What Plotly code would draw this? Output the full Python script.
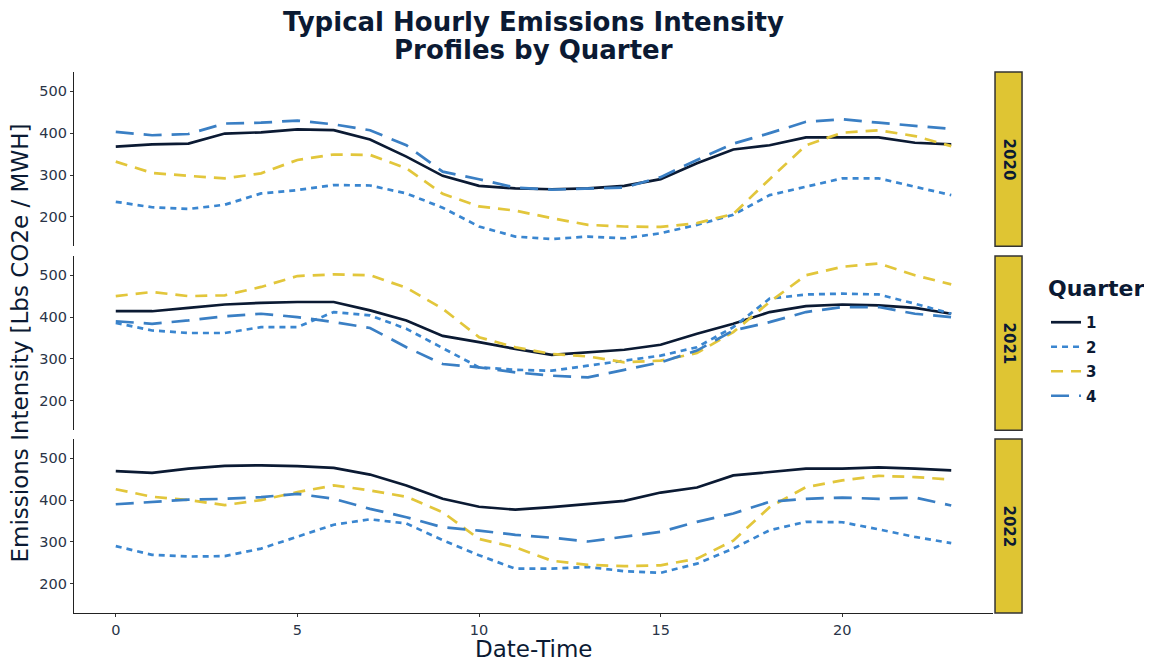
import plotly.graph_objects as go

hours = list(range(24))
years = ["2020", "2021", "2022"]
quarters = ["1", "2", "3", "4"]

q1_2020 = [368, 373, 375, 399, 402, 409, 407, 385, 344, 298, 274, 268, 266, 268, 274, 290, 328, 361, 371, 390, 390, 390, 377, 373]
q2_2020 = [236, 223, 219, 229, 256, 264, 276, 275, 256, 222, 177, 153, 147, 153, 149, 161, 181, 205, 252, 272, 292, 292, 272, 252]
q3_2020 = [332, 305, 298, 292, 304, 336, 349, 348, 316, 255, 225, 215, 197, 181, 177, 176, 185, 207, 290, 371, 401, 407, 393, 369]
q4_2020 = [403, 395, 398, 423, 425, 430, 421, 407, 371, 308, 290, 270, 265, 268, 270, 295, 336, 375, 400, 427, 433, 425, 417, 410]

q1_2021 = [414, 414, 422, 430, 434, 436, 436, 416, 392, 355, 340, 324, 310, 316, 322, 334, 360, 384, 412, 426, 430, 428, 422, 408]
q2_2021 = [386, 368, 362, 362, 376, 376, 412, 404, 372, 326, 280, 274, 272, 284, 296, 308, 328, 376, 444, 454, 456, 454, 432, 408]
q3_2021 = [450, 460, 450, 452, 472, 498, 502, 500, 470, 420, 352, 328, 312, 306, 292, 296, 314, 364, 436, 500, 520, 528, 500, 478]
q4_2021 = [390, 384, 392, 402, 408, 400, 388, 374, 328, 288, 280, 268, 260, 256, 274, 292, 320, 368, 388, 412, 424, 424, 408, 400]

q1_2022 = [469, 465, 475, 482, 483, 481, 477, 461, 435, 403, 384, 377, 383, 390, 398, 418, 430, 459, 467, 475, 475, 478, 475, 471]
q2_2022 = [290, 269, 265, 266, 284, 312, 341, 354, 344, 304, 268, 236, 236, 240, 230, 226, 248, 284, 328, 348, 347, 330, 312, 297]
q3_2022 = [426, 408, 400, 388, 400, 419, 435, 423, 408, 371, 307, 287, 255, 245, 242, 244, 260, 303, 383, 431, 447, 458, 455, 449]
q4_2022 = [390, 395, 401, 403, 407, 415, 403, 379, 359, 335, 327, 317, 310, 301, 312, 324, 348, 368, 396, 403, 406, 403, 406, 387]

data = {
    "2020": [q1_2020, q2_2020, q3_2020, q4_2020],
    "2021": [q1_2021, q2_2021, q3_2021, q4_2021],
    "2022": [q1_2022, q2_2022, q3_2022, q4_2022],
}

x_ticks = [0, 5, 10, 15, 20]
y_ticks = [200, 300, 400, 500]

title_line1 = "Typical Hourly Emissions Intensity"
title_line2 = "Profiles by Quarter"

NAVY = "#0b1a33"
colors = ["#0b1a33", "#3a86d0", "#e2c63b", "#3a7fc4"]
dashes = ["solid", "6px,5px", "12px,8px", "18px,10px"]
STRIP = "#dfc533"
FONT = "DejaVu Sans"

# The page body has an 8px margin, so the figure is 8px smaller on each axis
W, H = 1144, 654

fig = go.Figure()
for i, yr in enumerate(years):
    suf = "" if i == 0 else str(i + 1)
    for j, q in enumerate(quarters):
        fig.add_trace(go.Scatter(
            x=hours, y=data[yr][j], mode="lines", name=q,
            legendgroup=q, showlegend=(i == 0),
            line=dict(color=colors[j], width=2.7, dash=dashes[j]),
            xaxis="x" + suf, yaxis="y" + suf,
        ))

domains = [[0.678, 1.0], [0.338, 0.660], [0.0, 0.3216]]
xr = [-1.15, 24.15]
yr_range = [130, 546]

axis_common = dict(showgrid=False, zeroline=False, linecolor="#222222", linewidth=1.3,
                   tickfont=dict(family=FONT, size=14.5, color="#2a3447"),
                   ticks="outside", ticklen=3, tickcolor="#333333")

layout = dict(
    width=W, height=H,
    paper_bgcolor="white", plot_bgcolor="white",
    margin=dict(l=66, r=159, t=64, b=49),
    font=dict(family=FONT, color=NAVY),
    title=dict(text="<b>" + title_line1 + "</b>",
               x=0.5, xref="paper", y=1 - 14 / H, yref="container",
               xanchor="center", yanchor="middle",
               font=dict(family=FONT, size=26, color=NAVY)),
    legend=dict(x=1.0577, xanchor="left", y=0.5675, yanchor="top",
                font=dict(family=FONT, size=15, color=NAVY, weight="bold"),
                tracegroupgap=2, bgcolor="rgba(0,0,0,0)"),
)

for i in range(3):
    suf = "" if i == 0 else str(i + 1)
    xa = dict(axis_common, domain=[0, 1], anchor="y" + suf, range=xr)
    if i < 2:
        xa.update(showline=False, showticklabels=False, ticks="", matches="x3")
    else:
        xa.update(showline=True, tickvals=x_ticks)
    ya = dict(axis_common, domain=domains[i], anchor="x" + suf, range=yr_range,
              tickvals=y_ticks, showline=True)
    layout["xaxis" + suf] = xa
    layout["yaxis" + suf] = ya

fig.update_layout(**layout)

shapes = []
annotations = []
for i, yr in enumerate(years):
    d = domains[i]
    shapes.append(dict(type="rect", xref="paper", yref="paper",
                       x0=1.0022, x1=1.0316, y0=d[0], y1=d[1],
                       fillcolor=STRIP, line=dict(color="#333333", width=1.5), layer="above"))
    annotations.append(dict(text="<b>" + yr + "</b>", xref="paper", yref="paper",
                            x=1.0169, y=(d[0] + d[1]) / 2, showarrow=False, textangle=90,
                            xanchor="center", yanchor="middle",
                            font=dict(family=FONT, size=15, color=NAVY)))

annotations.append(dict(text="<b>" + title_line2 + "</b>", xref="paper", yref="paper",
                        x=0.5, y=1, yshift=22, showarrow=False,
                        xanchor="center", yanchor="middle",
                        font=dict(family=FONT, size=26, color=NAVY)))
annotations.append(dict(text="<b>Quarter</b>", xref="paper", yref="paper",
                        x=1.0577, y=0.6007, showarrow=False,
                        xanchor="left", yanchor="middle",
                        font=dict(family=FONT, size=22, color=NAVY)))
annotations.append(dict(text="Emissions Intensity [Lbs CO2e / MWH]", xref="paper", yref="paper",
                        x=-0.0588, y=0.5, showarrow=False, textangle=-90,
                        xanchor="center", yanchor="middle",
                        font=dict(family=FONT, size=23, color=NAVY)))
annotations.append(dict(text="Date-Time", xref="paper", yref="paper",
                        x=0.5, y=0, yshift=-36, showarrow=False,
                        xanchor="center", yanchor="middle",
                        font=dict(family=FONT, size=23, color=NAVY)))

fig.update_layout(shapes=shapes, annotations=annotations)
fig.write_html("out.html")
